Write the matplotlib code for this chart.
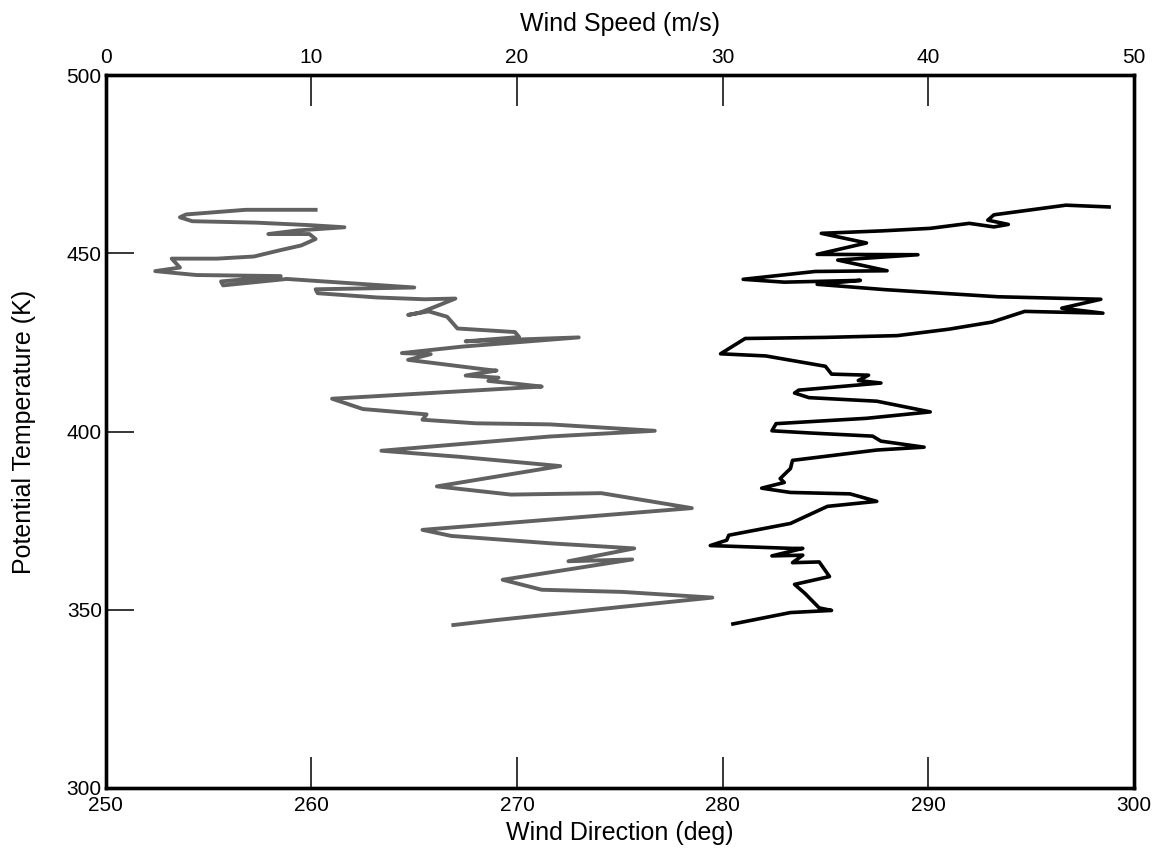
import matplotlib.pyplot as plt

plt.rcParams['font.family'] = ['Liberation Sans', 'DejaVu Sans']

# grey trace: wind speed (m/s) vs potential temperature (K)
speed = [10.2, 6.8, 3.9, 3.6, 4.2, 7.3, 9.9, 11.6, 9.3, 7.9, 9.9, 10.2, 9.5, 8.5,
         7.2, 5.4, 3.2, 3.6, 2.4, 4.4, 8.5, 5.6, 5.7, 8.8, 15.0, 10.2, 10.3, 13.2,
         15.5, 17.0, 16.1, 15.3, 14.7, 15.7, 16.6, 17.1, 19.9, 20.1, 17.5, 23.0,
         17.3, 14.4, 15.8, 14.7, 18.6, 19.0, 17.5, 19.1, 18.6, 20.1, 21.2,
         11.0, 12.5, 15.6, 15.4, 18.0, 21.6, 26.7, 21.6, 13.4,
         17.2, 22.1, 16.1, 19.7, 24.1, 28.5,
         15.4, 16.8, 21.7, 25.7, 22.5, 25.6, 19.3, 21.2, 25.1, 29.5, 25.1, 19.0, 16.9]
theta_speed = [462.2, 462.2, 460.9, 460.1, 459.0, 458.6, 457.9, 457.3, 456.4, 455.4,
               455.4, 454.0, 452.2, 450.9, 449.1, 448.5, 448.5, 446.0, 445.0, 443.9,
               443.6, 442.1, 441.0, 442.8, 440.4, 439.9, 438.8, 437.6, 437.1, 437.3,
               435.2, 433.4, 432.7, 433.7, 432.2, 428.9, 427.9, 426.5, 425.3, 426.4,
               423.8, 422.0, 421.7, 420.1, 417.3, 417.1, 415.7, 415.1, 414.2, 413.3,
               412.6, 409.2, 406.3, 404.8, 403.3, 402.3, 402.0, 400.2, 398.6, 394.6,
               392.9, 390.3, 384.6, 382.3, 382.7, 378.5, 372.4, 370.7, 368.6, 367.2,
               363.6, 364.1, 358.4, 355.6, 355.0, 353.4, 350.8, 347.1, 345.7]

# black trace: wind direction (deg) vs potential temperature (K)
direction = [298.8, 296.7, 293.2, 292.9, 293.9, 293.2, 292.0, 290.1, 287.8, 284.8,
             287.0, 284.6, 289.5, 285.6, 288.0, 284.5, 281.0, 283.0, 286.7, 284.6,
             287.9, 293.4, 298.4, 296.5, 298.5, 294.7, 293.1, 291.0, 288.5, 285.0,
             281.1, 279.9, 282.1, 285.0, 285.3, 287.1, 286.6, 287.7, 283.7, 283.5,
             284.2, 287.5, 290.1, 287.0, 282.6, 282.4, 284.2, 287.3, 287.7, 289.8,
             287.5, 283.4, 283.3, 282.8, 283.0, 281.9, 283.3, 286.2, 287.5, 285.1,
             283.3, 280.3, 280.2, 279.4, 283.4, 283.9, 282.4, 283.9, 283.4, 284.7,
             285.2, 283.5, 284.0, 284.7, 285.3, 283.3, 280.5]
theta_dir = [463.0, 463.5, 460.8, 459.3, 458.1, 457.4, 458.4, 457.0, 456.3, 455.6,
             452.9, 449.7, 449.6, 448.1, 445.1, 444.9, 442.7, 441.9, 442.4, 441.3,
             439.8, 437.8, 437.1, 434.6, 433.2, 433.7, 430.7, 428.7, 426.9, 426.4,
             426.1, 421.8, 421.2, 418.3, 416.1, 415.8, 414.3, 413.6, 411.6, 410.8,
             409.5, 408.5, 405.5, 403.7, 402.2, 400.2, 399.6, 398.7, 397.3, 395.6,
             394.8, 391.9, 389.6, 386.8, 385.7, 384.1, 382.9, 382.5, 380.4, 379.0,
             374.2, 370.9, 369.5, 368.0, 367.2, 367.2, 365.1, 365.3, 363.2, 363.4,
             359.3, 357.1, 354.6, 350.5, 349.8, 349.2, 346.0]

fig = plt.figure(figsize=(11.64, 8.63), dpi=100)
ax = fig.add_axes([0.091, 0.087, 0.883, 0.826])
ax2 = ax.twiny()

ax.plot(direction, theta_dir, color='black', lw=2.6, solid_joinstyle='round')
ax2.plot(speed, theta_speed, color='0.38', lw=2.8, solid_joinstyle='round')

ax.set_xlim(250, 300)
ax.set_ylim(300, 500)
ax2.set_xlim(0, 50)

ax.set_xticks([250, 260, 270, 280, 290, 300])
ax.set_yticks([300, 350, 400, 450, 500])
ax2.set_xticks([0, 10, 20, 30, 40, 50])

for a in (ax, ax2):
    for s in a.spines.values():
        s.set_linewidth(2.4)
ax.tick_params(axis='x', direction='in', length=22, width=1.1, labelsize=15, pad=6)
ax.tick_params(axis='y', direction='in', length=20, width=1.1, labelsize=15, pad=3)
ax2.tick_params(axis='x', direction='in', length=22, width=1.1, labelsize=15, pad=6)

ax.set_xlabel("Wind Direction (deg)", fontsize=18, labelpad=4)
ax.set_ylabel("Potential Temperature (K)", fontsize=18, labelpad=22)
ax2.set_xlabel("Wind Speed (m/s)", fontsize=18, labelpad=12)

fig.savefig("out.png", dpi=100)
